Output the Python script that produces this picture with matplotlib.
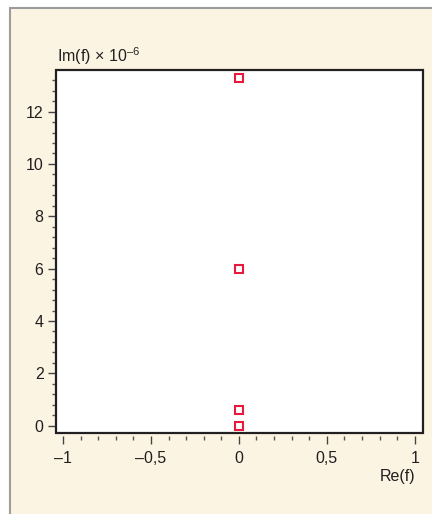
import matplotlib
matplotlib.use("Agg")
import matplotlib.pyplot as plt
from matplotlib.patches import Rectangle
from matplotlib.ticker import MultipleLocator, FixedLocator

# data
re_vals = [0.0, 0.0, 0.0, 0.0]
im_vals = [13.3, 5.97, 0.58, 0.0]
x_ticks = [-1, -0.5, 0, 0.5, 1]
x_tick_labels = ["\u20131", "\u20130,5", "0", "0,5", "1"]
y_ticks = [0, 2, 4, 6, 8, 10, 12]
y_tick_labels = ["0", "2", "4", "6", "8", "10", "12"]

plt.rcParams['font.family'] = ['Liberation Sans', 'DejaVu Sans']
plt.rcParams['mathtext.fontset'] = 'custom'
plt.rcParams['mathtext.rm'] = 'Liberation Sans'

W, H = 432, 514
fig = plt.figure(figsize=(W / 100, H / 100), dpi=100)
fig.patch.set_facecolor('white')

cream = '#fcf4e2'
txt = '#231f20'
bg = Rectangle((10 / W, -0.1), 1.2, 1 - 8 / H + 0.1,
               transform=fig.transFigure, facecolor=cream,
               edgecolor='#9c9c9c', linewidth=1.5, zorder=-10)
fig.add_artist(bg)

ax = fig.add_axes([56 / W, 1 - 433 / H, (422.5 - 56) / W, (433 - 70) / H])
ax.set_zorder(1)
ax.set_facecolor('white')
ax.set_xlim(-1.04, 1.044)
ax.set_ylim(-0.28, 13.59)

for s in ax.spines.values():
    s.set_visible(False)
ax.spines['bottom'].set_position(('outward', 2))
ax.add_patch(Rectangle((0, 0), 1, 1, transform=ax.transAxes, fill=False,
                       edgecolor=txt, linewidth=1.6, clip_on=False, zorder=5))

ax.plot(re_vals, im_vals, linestyle='none', marker='s', markersize=5.8,
        markerfacecolor='white', markeredgecolor='#e8193c',
        markeredgewidth=1.5, zorder=6, clip_on=False)

ax.xaxis.set_major_locator(FixedLocator(x_ticks))
ax.set_xticklabels(x_tick_labels)
ax.xaxis.set_minor_locator(MultipleLocator(0.1))
ax.yaxis.set_major_locator(FixedLocator(y_ticks))
ax.set_yticklabels(y_tick_labels)
ax.yaxis.set_minor_locator(MultipleLocator(0.4))

ax.tick_params(axis='both', which='major', length=6, width=1.0, color='#444444',
               labelsize=11.5, labelcolor=txt, direction='out')
ax.tick_params(axis='both', which='minor', length=3.2, width=1.0, color='#555555',
               direction='out')
ax.tick_params(axis='x', which='major', pad=5)
ax.tick_params(axis='y', which='major', pad=3)

fig.text(415 / W, 1 - 477 / H, "Re(f)", ha='right', va='center',
         fontsize=11.5, color=txt, zorder=3)
fig.text(57 / W, 1 - 56 / H, "Im(f) \u00d7 10$^{\\mathregular{\u20136}}$",
         ha='left', va='center', fontsize=11.5, color=txt, zorder=3)

fig.savefig("out.png", dpi=100, facecolor=fig.get_facecolor())
